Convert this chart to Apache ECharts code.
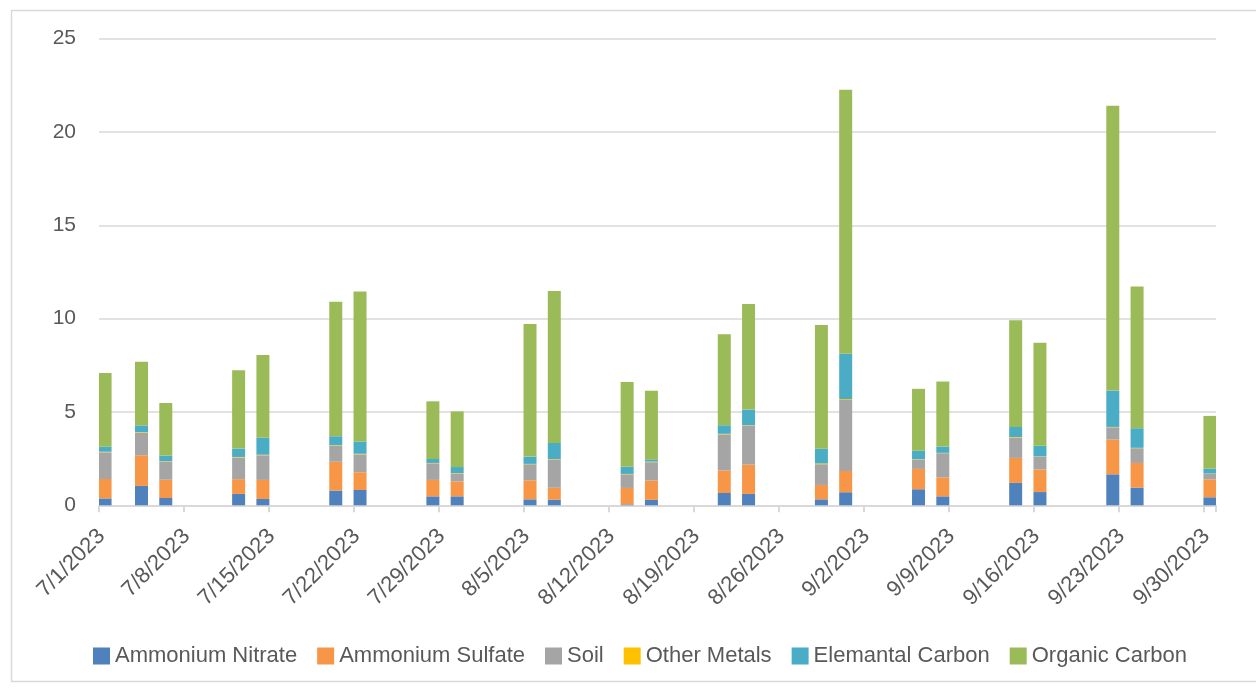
<!DOCTYPE html>
<html>
<head>
<meta charset="utf-8">
<script src="https://cdn.jsdelivr.net/npm/echarts@6/dist/echarts.min.js"></script>
<style>
  html, body { margin: 0; padding: 0; background: #fff; }
  #chart { width: 1256px; height: 688px; }
</style>
</head>
<body>
<div id="chart"></div>
<script>
// sample days and axis labels
const sampleDates = ['7/1/2023', '7/4/2023', '7/6/2023', '7/12/2023', '7/14/2023', '7/20/2023', '7/22/2023',
  '7/28/2023', '7/30/2023', '8/5/2023', '8/7/2023', '8/13/2023', '8/15/2023', '8/21/2023', '8/23/2023',
  '8/29/2023', '8/31/2023', '9/6/2023', '9/8/2023', '9/14/2023', '9/16/2023', '9/22/2023', '9/24/2023', '9/30/2023']
const tickLabels = ['7/1/2023', '7/8/2023', '7/15/2023', '7/22/2023', '7/29/2023', '8/5/2023', '8/12/2023',
  '8/19/2023', '8/26/2023', '9/2/2023', '9/9/2023', '9/16/2023', '9/23/2023', '9/30/2023']
const yTicks = [0, 5, 10, 15, 20, 25]

// components
const ammoniumNitrate = [0.37, 1.04, 0.39, 0.61, 0.34, 0.79, 0.82, 0.48, 0.48, 0.32, 0.30, 0.05, 0.29, 0.66, 0.61, 0.32, 0.70, 0.86, 0.48, 1.20, 0.71, 1.66, 0.95, 0.43]
const ammoniumSulfate = [1.04, 1.64, 0.98, 0.79, 1.02, 1.54, 0.95, 0.88, 0.80, 1.02, 0.64, 0.88, 1.04, 1.21, 1.57, 0.77, 1.14, 1.09, 1.02, 1.34, 1.21, 1.86, 1.32, 0.96]
const soil = [1.43, 1.21, 0.98, 1.16, 1.32, 0.86, 0.96, 0.89, 0.43, 0.86, 1.52, 0.73, 0.98, 1.93, 2.09, 1.11, 3.80, 0.50, 1.29, 1.09, 0.68, 0.66, 0.79, 0.29]
const otherMetals = [0.03, 0.03, 0.02, 0.03, 0.03, 0.03, 0.03, 0.02, 0.02, 0.02, 0.02, 0.02, 0.03, 0.03, 0.02, 0.04, 0.05, 0.02, 0.02, 0.03, 0.02, 0.02, 0.02, 0.02]
const elementalCarbon = [0.27, 0.36, 0.29, 0.45, 0.91, 0.48, 0.66, 0.21, 0.32, 0.39, 0.86, 0.38, 0.12, 0.46, 0.84, 0.79, 2.43, 0.45, 0.34, 0.54, 0.57, 1.95, 1.05, 0.27]
const organicCarbon = [3.95, 3.41, 2.82, 4.20, 4.43, 7.21, 8.04, 3.09, 2.98, 7.11, 8.14, 4.54, 3.68, 4.88, 5.66, 6.63, 14.14, 3.32, 3.48, 5.71, 5.52, 15.26, 7.59, 2.82]

const DAY = 86400000
const START = Date.UTC(2023, 6, 1)
const END = Date.UTC(2023, 8, 30)
function dayIndex(s) {
  const p = s.split('/').map(Number)
  return (Date.UTC(p[2], p[0] - 1, p[1]) - START) / DAY
}
function dayLabel(i) {
  const d = new Date(START + i * DAY)
  return (d.getUTCMonth() + 1) + '/' + d.getUTCDate() + '/' + d.getUTCFullYear()
}

// Excel style date axis: one category per day
const days = []
for (let i = 0; i <= (END - START) / DAY; i++) days.push(dayLabel(i))
const tickStep = dayIndex(tickLabels[1]) - dayIndex(tickLabels[0])

const FONT = '"Liberation Sans", Arial, sans-serif'
const TXT = '#595959'
const GRID = '#d9d9d9'

function makeSeries(name, values, color) {
  const full = days.map(() => '-')
  sampleDates.forEach((d, i) => { full[dayIndex(d)] = values[i] })
  return {
    name: name,
    type: 'bar',
    stack: 'total',
    barWidth: 13,
    itemStyle: { color: color },
    data: full,
  }
}

const chart = echarts.init(document.getElementById('chart'))
chart.setOption({
  animation: false,
  textStyle: { fontFamily: FONT },
  graphic: [{
    type: 'rect',
    shape: { x: 11.5, y: 10.5, width: 1300, height: 671 },
    style: { fill: 'none', stroke: GRID, lineWidth: 1.5 },
    silent: true,
  }],
  grid: { left: 99, right: 40, top: 38.7, bottom: 182.7 },
  legend: {
    left: 93,
    top: 645,
    padding: 0,
    itemWidth: 17,
    itemHeight: 17,
    itemGap: 20,
    icon: 'rect',
    textStyle: { color: TXT, fontSize: 22, fontFamily: FONT },
  },
  xAxis: {
    type: 'category',
    data: days,
    boundaryGap: true,
    axisLine: { show: true, lineStyle: { color: GRID, width: 2 } },
    axisTick: { show: true, interval: tickStep - 1, alignWithLabel: false, length: 7, lineStyle: { color: GRID, width: 2 } },
    axisLabel: {
      interval: tickStep - 1,
      rotate: 45,
      margin: 24,
      padding: [10, 5, 0, 0],
      color: TXT,
      fontSize: 22,
      fontFamily: FONT,
    },
  },
  yAxis: {
    type: 'value',
    min: yTicks[0],
    max: yTicks[yTicks.length - 1],
    interval: 5,
    axisLine: { show: false },
    axisTick: { show: false },
    splitLine: { lineStyle: { color: GRID, width: 1.5 } },
    axisLabel: { color: TXT, fontSize: 21, fontFamily: FONT, margin: 23 },
  },
  series: [
    makeSeries('Ammonium Nitrate', ammoniumNitrate, '#4F81BD'),
    makeSeries('Ammonium Sulfate', ammoniumSulfate, '#F79646'),
    makeSeries('Soil', soil, '#A5A5A5'),
    makeSeries('Other Metals', otherMetals, '#FFC000'),
    makeSeries('Elemantal Carbon', elementalCarbon, '#4BACC6'),
    makeSeries('Organic Carbon', organicCarbon, '#9BBB59'),
  ],
})
</script>
</body>
</html>
